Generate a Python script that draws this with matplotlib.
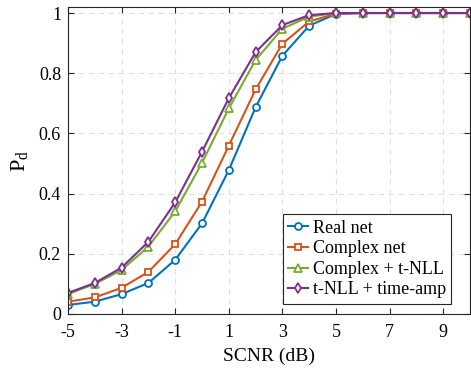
import numpy as np
import matplotlib
matplotlib.use("agg")
import matplotlib.pyplot as plt

plt.rcParams['font.family'] = ['Liberation Serif', 'DejaVu Serif']
plt.rcParams['mathtext.fontset'] = 'custom'
plt.rcParams['mathtext.rm'] = 'Liberation Serif'
plt.rcParams['mathtext.it'] = 'Liberation Serif:italic'
plt.rcParams['axes.unicode_minus'] = False

# data
scnr = [-5, -4, -3, -2, -1, 0, 1, 2, 3, 4, 5, 6, 7, 8, 9, 10]
real_net = [0.030, 0.041, 0.066, 0.103, 0.180, 0.301, 0.478, 0.687, 0.858, 0.958, 0.997, 1.0, 1.0, 1.0, 1.0, 1.0]
complex_net = [0.041, 0.055, 0.087, 0.140, 0.232, 0.373, 0.559, 0.746, 0.898, 0.972, 0.998, 1.0, 1.0, 1.0, 1.0, 1.0]
complex_tnll = [0.066, 0.100, 0.146, 0.224, 0.341, 0.502, 0.683, 0.844, 0.948, 0.988, 1.0, 1.0, 1.0, 1.0, 1.0, 1.0]
tnll_timeamp = [0.070, 0.103, 0.154, 0.240, 0.371, 0.539, 0.717, 0.870, 0.960, 0.993, 1.0, 1.0, 1.0, 1.0, 1.0, 1.0]

labels = ["Real net", "Complex net", "Complex + t-NLL", "t-NLL + time-amp"]
series = [real_net, complex_net, complex_tnll, tnll_timeamp]
colors = ["#0072BD", "#D95319", "#77AC30", "#7E2F8E"]
markers = ["o", "s", "^", "d"]
msizes = [5, 4.5, 5.5, 5.5]

xticks = [-5, -3, -1, 1, 3, 5, 7, 9]
yticks = [0, 0.2, 0.4, 0.6, 0.8, 1]
yticklabels = ["0", "0.2", "0.4", "0.6", "0.8", "1"]

fig = plt.figure(figsize=(4.71, 3.72), dpi=100)
ax = fig.add_axes([68/471, 1 - 314/372, (470-68)/471, (314-7)/372])

for y, lab, c, m, ms in zip(series, labels, colors, markers, msizes):
    ax.plot(scnr, y, color=c, marker=m, markersize=ms, markerfacecolor='white',
            markeredgewidth=1.3, lw=1.5, label=lab)

ax.set_xlim(-5, 10)
ax.set_ylim(0, 1.02)
ax.set_xticks(xticks)
ax.set_yticks(yticks)
ax.set_yticklabels(yticklabels)
ax.grid(True, ls=(0, (5, 4)), color='#e0e0e0', lw=0.8)
ax.set_axisbelow(True)
ax.tick_params(direction='in', top=True, right=True, labelsize=13,
               color='#262626', length=4, width=0.8)
ax.tick_params(axis='x', pad=7)
ax.tick_params(axis='y', pad=5)
for s in ax.spines.values():
    s.set_color('#262626')
    s.set_linewidth(0.8)

ax.set_xlabel("SCNR (dB)", fontsize=14, labelpad=5)
ax.set_ylabel(r"$\mathrm{P_d}$", fontsize=16, labelpad=6)

leg = ax.legend(loc='lower right', fontsize=13, handlelength=1.1,
                handletextpad=0.25, borderpad=0.3, labelspacing=0.2,
                borderaxespad=0, fancybox=False, framealpha=1,
                edgecolor='#262626', bbox_to_anchor=(0.953, 0.033))
leg.get_frame().set_linewidth(0.8)

fig.savefig("out.png", dpi=100)
